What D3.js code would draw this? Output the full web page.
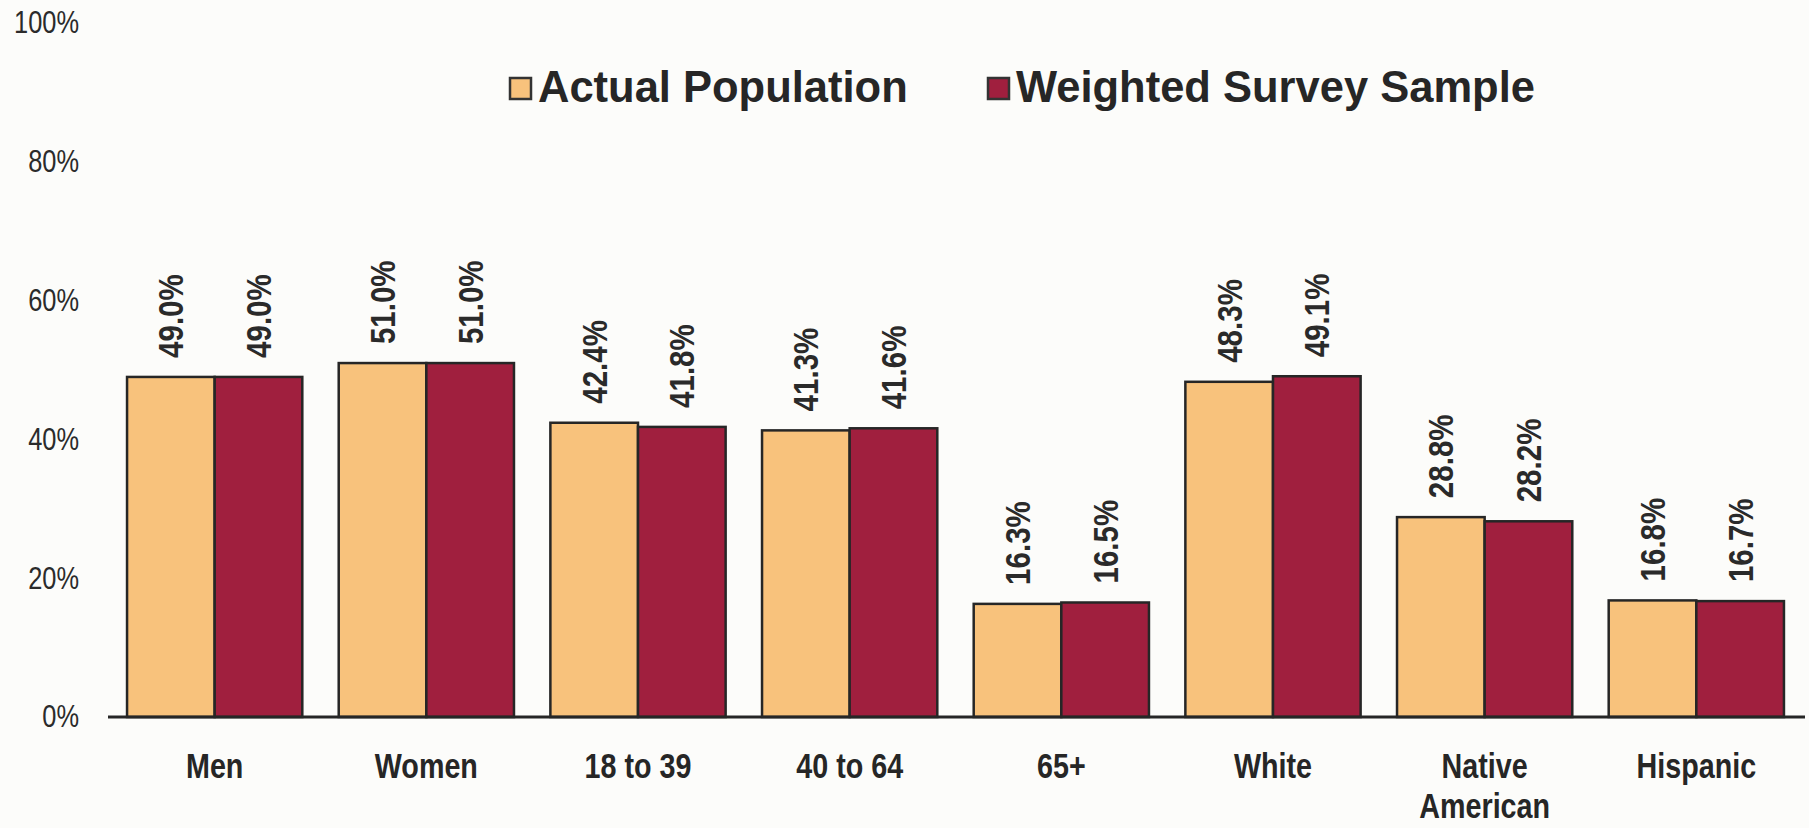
<!DOCTYPE html>
<html>
<head>
<meta charset="utf-8">
<script src="https://cdn.jsdelivr.net/npm/d3@7"></script>
<style>
  body { margin: 0; background: #fcfcfa; }
  svg { display: block; }
  text { font-family: "Liberation Sans", Arial, sans-serif; }
</style>
</head>
<body>
<svg width="1809" height="828"></svg>
<script>
// data
let categories = ['Men', 'Women', '18 to 39', '40 to 64', '65+', 'White', 'Native American', 'Hispanic']
let seriesNames = ['Actual Population', 'Weighted Survey Sample']
let actualPopulation = [0.490, 0.510, 0.424, 0.413, 0.163, 0.483, 0.288, 0.168]
let weightedSample = [0.490, 0.510, 0.418, 0.416, 0.165, 0.491, 0.282, 0.167]
let yTicks = [0, 0.2, 0.4, 0.6, 0.8, 1]
let colors = ['#f8c27c', '#a01f3e']

// narrow font is not installed, squeeze Liberation Sans instead
let squeeze = 0.82

window.onload = function () {
  let svg = d3.select('svg')

  let x0 = d3.scaleBand().domain(categories).range([108, 1803]).paddingInner(0.172).paddingOuter(0.09)
  let x1 = d3.scaleBand().domain(seriesNames).range([0, x0.bandwidth()])
  let y = d3.scaleLinear().domain([0, 1]).range([717, 23])
  let color = d3.scaleOrdinal().domain(seriesNames).range(colors)

  // y axis labels only
  let yAxis = svg.append('g')
    .attr('transform', 'translate(79,0)')
    .call(d3.axisLeft(y).tickValues(yTicks).tickSize(0).tickFormat(d3.format('.0%')))
  yAxis.select('.domain').remove()
  yAxis.selectAll('text')
    .attr('x', 0)
    .attr('transform', 'scale(' + squeeze + ',1)')
    .style('font-family', '"Liberation Sans", Arial, sans-serif')
    .style('font-size', '31px')
    .style('fill', '#2b2b2b')

  // rows for grouped bars
  let rows = categories.map(function (c, i) {
    return { cat: c, vals: [actualPopulation[i], weightedSample[i]] }
  })

  let groups = svg.append('g')
    .selectAll('g')
    .data(rows)
    .enter()
    .append('g')
    .attr('transform', function (d) { return 'translate(' + x0(d.cat) + ',0)' })

  groups.selectAll('rect')
    .data(function (d) { return seriesNames.map(function (s, j) { return { s: s, v: d.vals[j] } }) })
    .enter()
    .append('rect')
    .attr('x', function (d) { return x1(d.s) })
    .attr('y', function (d) { return y(d.v) })
    .attr('width', x1.bandwidth())
    .attr('height', function (d) { return y(0) - y(d.v) })
    .attr('fill', function (d) { return color(d.s) })
    .attr('stroke', '#262626')
    .attr('stroke-width', 2.5)

  // value labels, rotated
  groups.selectAll('text.val')
    .data(function (d) { return seriesNames.map(function (s, j) { return { s: s, v: d.vals[j] } }) })
    .enter()
    .append('text')
    .attr('class', 'val')
    .attr('transform', function (d) {
      return 'translate(' + (x1(d.s) + x1.bandwidth() / 2) + ',' + (y(d.v) - 19) + ') rotate(-90) scale(' + squeeze + ',1)'
    })
    .attr('dominant-baseline', 'central')
    .style('font-size', '36px')
    .style('font-weight', 'bold')
    .style('fill', '#2a2a2a')
    .text(function (d) { return d3.format('.1%')(d.v) })

  // x axis
  let xAxis = svg.append('g')
    .attr('transform', 'translate(0,' + y(0) + ')')
    .call(d3.axisBottom(x0).tickSize(0).tickFormat(''))
  xAxis.select('.domain')
    .attr('d', 'M108,0H1805')
    .attr('stroke', '#262626')
    .attr('stroke-width', 3)

  let catLabels = svg.append('g')
    .selectAll('text')
    .data(categories)
    .enter()
    .append('text')
    .attr('text-anchor', 'middle')
    .attr('transform', function (d) {
      return 'translate(' + (x0(d) + x0.bandwidth() / 2) + ',778) scale(' + squeeze + ',1)'
    })
    .style('font-size', '35px')
    .style('font-weight', 'bold')
    .style('fill', '#262626')
  catLabels.each(function (d) {
    let parts = d === 'Native American' ? ['Native', 'American'] : [d]
    let t = d3.select(this)
    parts.forEach(function (p, k) {
      t.append('tspan')
        .attr('x', 0)
        .attr('dy', k === 0 ? 0 : 40)
        .text(p)
    })
  })

  // legend
  let legendX = [510, 988]
  let legend = svg.append('g')
    .selectAll('g')
    .data(seriesNames)
    .enter()
    .append('g')
    .attr('transform', function (d, i) { return 'translate(' + legendX[i] + ',78)' })
  legend.append('rect')
    .attr('width', 21)
    .attr('height', 21)
    .attr('fill', function (d) { return color(d) })
    .attr('stroke', '#333')
    .attr('stroke-width', 2.5)
  legend.append('text')
    .attr('x', 28)
    .attr('y', 24)
    .style('font-size', '43.5px')
    .style('font-weight', 'bold')
    .style('fill', '#262626')
    .text(function (d) { return d })
}
</script>
</body>
</html>
